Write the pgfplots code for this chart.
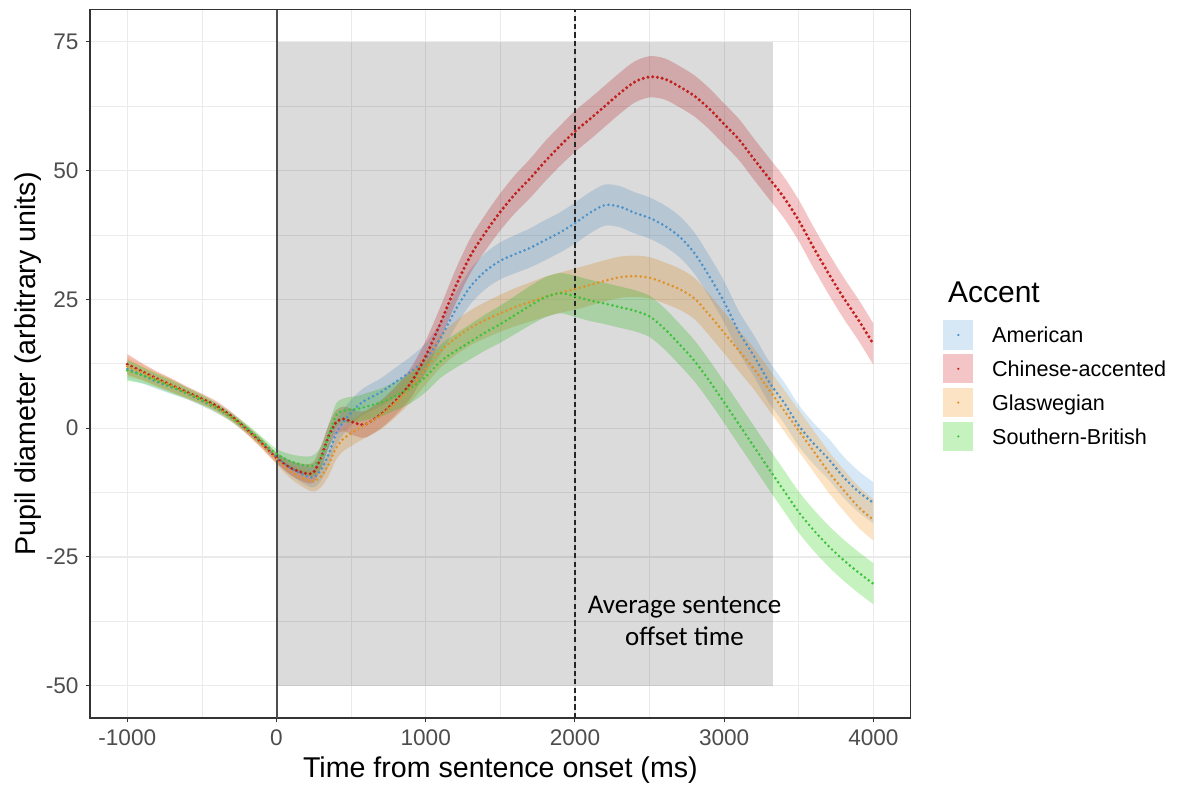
\documentclass[border=0pt]{standalone}
\usepackage{fontspec}
\setmainfont{Liberation Sans}
\newfontfamily\carlito{Carlito}
\usepackage{pgfplots}
\usepackage{pgfplotstable}
\pgfplotsset{compat=1.18}
\usepgfplotslibrary{fillbetween}

\definecolor{gridc}{HTML}{EBEBEB}
\definecolor{framec}{HTML}{333333}
\definecolor{tickc}{HTML}{4D4D4D}
\definecolor{blueL}{HTML}{4B92C9}
\definecolor{redL}{HTML}{C0211F}
\definecolor{orangeL}{HTML}{E0922A}
\definecolor{greenL}{HTML}{3CC23C}
\definecolor{blueF}{HTML}{76AFE1}
\definecolor{redF}{HTML}{D73E44}
\definecolor{orangeF}{HTML}{F5A237}
\definecolor{greenF}{HTML}{41D42D}

% pupil diameter per accent, e = ribbon half-width
\pgfplotstableread{
t     red   blue  orange green e
-1000 12.4  11.5  12.0  11.2  2.0
-900  11.0  10.3  10.8  10.3  1.6
-800  9.6   9.0   9.4   9.2   1.4
-700  8.3   7.9   8.2   8.0   1.3
-600  7.0   6.7   6.8   6.8   1.1
-500  5.7   5.3   5.5   5.5   1.0
-400  4.3   3.8   3.9   4.0   0.9
-300  2.3   2.0   2.0   2.1   0.8
-200  -0.2  -0.3  -0.4  0.0   0.8
-100  -2.9  -2.8  -3.1  -2.5  0.9
0     -5.8  -5.7  -6.0  -5.0  1.0
100   -7.8  -7.8  -8.5  -6.5  1.4
200   -8.8  -9.3  -10.0 -7.3  1.8
250   -8.5  -9.5  -10.3 -7.2  2.0
300   -5.5  -8.0  -9.3  -5.5  2.1
350   -1.5  -5.0  -7.0  -1.5  2.2
400   1.2   -1.0  -3.8  2.5   2.3
450   1.8   1.3   -2.0  3.4   2.4
500   1.3   3.0   -1.0  3.6   2.5
550   0.8   4.5   -0.1  3.8   2.5
600   0.8   5.5   0.8   4.2   2.6
700   2.7   7.0   2.5   5.0   2.7
800   5.4   9.0   5.0   6.3   2.8
900   8.8   11.0  8.0   7.8   2.9
1000  14.0  13.5  11.5  10.0  3.0
1100  20.5  17.5  15.0  13.0  3.2
1200  27.5  23.0  17.5  15.0  3.3
1300  33.5  27.5  19.5  16.8  3.4
1400  38.0  30.5  21.0  18.6  3.5
1500  42.0  32.5  22.3  20.2  3.6
1600  45.5  33.8  23.5  22.0  3.7
1700  48.5  35.0  24.5  23.8  3.8
1800  51.8  36.5  25.5  25.4  3.9
1900  54.8  38.0  26.3  26.2  3.9
2000  57.6  39.8  27.0  25.6  4.0
2100  60.0  41.8  27.8  24.8  4.0
2200  62.5  43.3  28.6  24.2  4.0
2300  65.0  43.0  29.3  23.5  4.0
2400  67.2  41.8  29.5  22.8  4.0
2500  68.2  40.8  29.2  21.7  4.0
2600  67.8  39.3  28.2  19.3  4.0
2700  66.3  37.2  27.0  16.3  4.0
2800  64.5  34.0  25.2  13.1  4.0
2900  62.0  29.5  22.0  9.2   4.0
3000  59.0  24.5  18.5  5.0   4.0
3100  56.0  18.6  15.0  0.7   4.0
3200  52.2  14.0  11.5  -3.6  4.0
3300  48.5  9.0   7.5   -7.9  4.0
3400  44.8  5.0   3.5   -12.1 4.0
3500  40.3  0.5   -0.5  -16.3 4.0
3600  35.0  -3.0  -4.5  -19.8 4.0
3700  30.0  -6.0  -8.5  -22.9 4.0
3800  25.3  -9.5  -12.0 -25.6 4.0
3900  21.0  -12.3 -15.3 -28.0 4.0
4000  16.3  -14.5 -17.8 -30.2 4.0
}\data

\newcommand{\band}[2]{%
  \addplot[name path=#1hi, draw=none, smooth, forget plot] table[x=t, y expr=\thisrow{#1}+\thisrow{e}] {\data};
  \addplot[name path=#1lo, draw=none, smooth, forget plot] table[x=t, y expr=\thisrow{#1}-\thisrow{e}] {\data};
  \addplot[fill=#2, fill opacity=0.3, draw=none, forget plot] fill between[of=#1hi and #1lo];
}
\newcommand{\dotline}[3]{%
  \addplot[#2, line width=#3, dash pattern=on 0pt off 2.4pt, line cap=round, smooth, forget plot] table[x=t, y=#1] {\data};
}

\begin{document}
\begin{tikzpicture}
\begin{axis}[
  at={(0,0)}, anchor=south west,
  scale only axis, width=410.35pt, height=354.2pt,
  xmin=-1250, xmax=4250, ymin=-56.25, ymax=81.25,
  xtick={-1000,0,1000,2000,3000,4000},
  xticklabels={-1000,0,1000,2000,3000,4000},
  ytick={-50,-25,0,25,50,75},
  yticklabels={-50,-25,0,25,50,75},
  minor xtick={-500,500,1500,2500,3500},
  minor ytick={-37.5,-12.5,12.5,37.5,62.5},
  grid=both,
  major grid style={draw=gridc, line width=0.55pt},
  minor grid style={draw=gridc, line width=0.3pt},
  tick pos=left,
  tick align=outside, major tick length=2.2pt, minor tick length=0pt,
  tick style={draw=framec, line width=0.5pt},
  axis line style={draw=framec, line width=0.6pt},
  tick label style={font=\fontsize{11.3}{13}\selectfont, text=tickc},
  label style={font=\fontsize{14.3}{16}\selectfont},
  xlabel={Time from sentence onset (ms)},
  ylabel={Pupil diameter (arbitrary units)},
  xlabel style={at={(axis description cs:0.5,-0.0733)}, anchor=center},
  ylabel style={at={(axis description cs:-0.0756,0.5)}, anchor=center},
]
  \addplot[fill=black, fill opacity=0.14, draw=none, forget plot]
    coordinates {(0,-50) (0,75) (3330,75) (3330,-50)} -- cycle;

  \band{blue}{blueF}
  \band{red}{redF}
  \band{orange}{orangeF}
  \band{green}{greenF}

  \addplot[draw=tickc, line width=1pt, forget plot] coordinates {(0,-56.25) (0,81.25)};
  \addplot[draw=black!85, line width=0.6pt, dash pattern=on 2.6pt off 1.6pt, forget plot] coordinates {(2000,-56.25) (2000,81.25)};

  \dotline{blue}{blueL}{1.45pt}
  \dotline{red}{redL}{1.7pt}
  \dotline{orange}{orangeL}{1.45pt}
  \dotline{green}{greenL}{1.45pt}

  \node[font=\carlito\fontsize{13.5}{16}\selectfont, align=center] at (axis cs:2734,-37.4) {Average sentence\\offset time};
\end{axis}

% legend
\node[anchor=base west, font=\fontsize{15}{18}\selectfont] at (425.5pt,207.5pt) {Accent};
\foreach \yc/\fc/\lc/\name in {191.5/blueF/blueL/American, 174.6/redF/redL/Chinese-accented, 157.7/orangeF/orangeL/Glaswegian, 140.8/greenF/greenL/Southern-British} {
  \fill[\fc, fill opacity=0.3] (426.65pt,\yc pt-7.3pt) rectangle (441.65pt,\yc pt+7.3pt);
  \fill[\lc] (434.15pt,\yc pt) circle (0.6pt);
  \node[anchor=base west, inner sep=0pt, font=\fontsize{10.8}{13}\selectfont] at (450.85pt,\yc pt-3.9pt) {\name};
}
\path (-45pt,-34.5pt) rectangle (548pt,359pt);
\end{tikzpicture}
\end{document}
